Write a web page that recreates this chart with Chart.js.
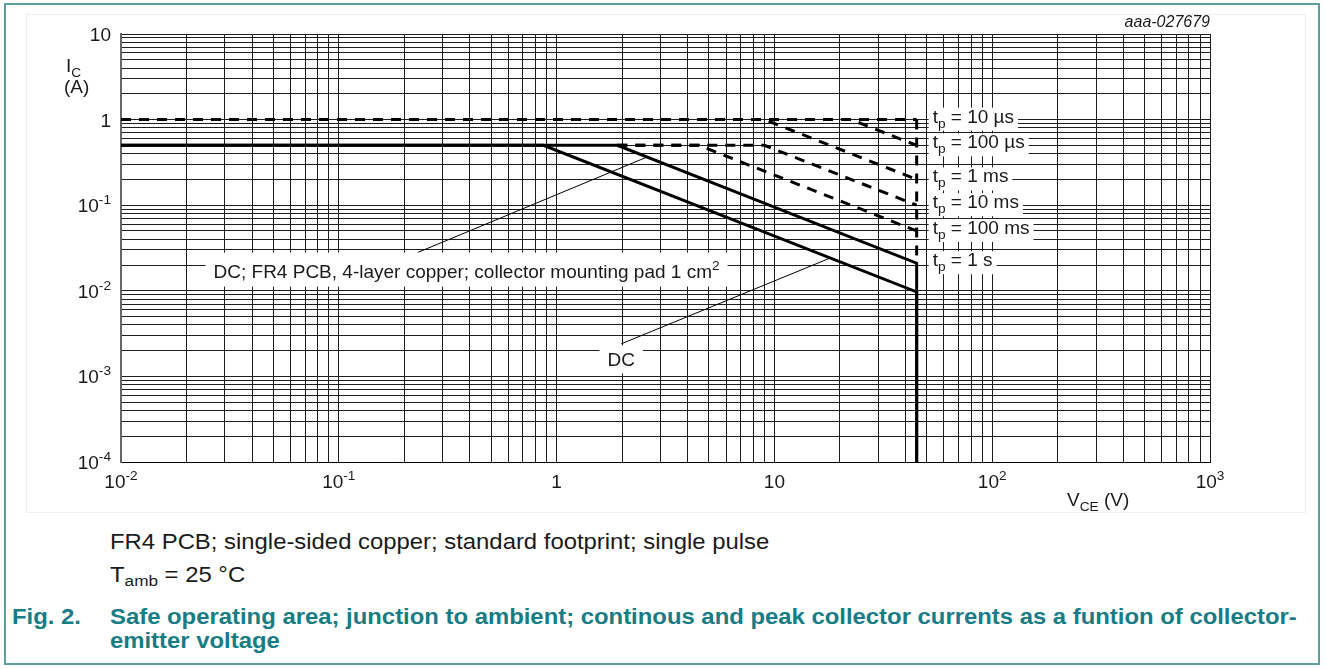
<!DOCTYPE html>
<html>
<head>
<meta charset="utf-8">
<script src="https://cdn.jsdelivr.net/npm/chart.js@4.4.1/dist/chart.umd.min.js"></script>
<style>
  body { margin: 0; background: #fff; font-family: "Liberation Sans", Arial, sans-serif; }
  #frame { position: absolute; left: 4px; top: 3px; width: 1316px; height: 662px; border: 2px solid #5d9ea4; box-sizing: border-box; }
  #inner { position: absolute; left: 26px; top: 14px; width: 1280px; height: 499px; border: 1px solid #efefef; box-sizing: border-box; }
  #wrap { position: absolute; left: 0; top: 0; width: 1326px; height: 520px; }
  .txt { position: absolute; font-size: 21.5px; line-height: 21.5px; color: #1a1a1a; white-space: nowrap;
         transform: scaleX(1.11); transform-origin: 0 0; }
  .fig { color: #177c84; font-weight: bold; }
  sub { font-size: 72%; vertical-align: -4px; line-height: 0; }
</style>
</head>
<body>
<div id="frame"></div>
<div id="inner"></div>
<div id="wrap"><canvas id="soa" width="1326" height="520"></canvas></div>
<div class="txt" style="left:110px; top:532px;">FR4 PCB; single-sided copper; standard footprint; single pulse</div>
<div class="txt" style="left:110px; top:565px;">T<sub>amb</sub> = 25 °C</div>
<div class="txt fig" style="left:12px; top:607px;">Fig. 2.</div>
<div class="txt fig" style="left:110px; top:607px;">Safe operating area; junction to ambient; continous and peak collector currents as a funtion of collector-</div>
<div class="txt fig" style="left:110px; top:631px;">emitter voltage</div>
<script>
// axes: decades and tick labels
const xDecades = [-2, -1, 0, 1, 2, 3];
const yDecades = [-4, -3, -2, -1, 0, 1];
const gridSteps = [1, 2, 3, 4, 5, 6, 7, 8, 9];
const xTickLabels = ['10^-2', '10^-1', '1', '10', '10^2', '10^3'];
const yTickLabels = ['10^-4', '10^-3', '10^-2', '10^-1', '1', '10'];

// curves, V_CE (V) and I_C (A)
const tp10us_V = [0.01, 45];
const tp10us_I = [1, 1];
const tp100us_V = [0.01, 22.5, 45];
const tp100us_I = [1, 1, 0.5];
const tp1ms_V = [0.01, 9, 45];
const tp1ms_I = [1, 1, 0.2];
const tp10ms_V = [1.9, 9, 45];
const tp10ms_I = [0.5, 0.5, 0.1];
const tp100ms_V = [1.9, 4.5, 45];
const tp100ms_I = [0.5, 0.5, 0.05];
const pulseEdge_V = [45, 45];
const pulseEdge_I = [1, 0.021];
const dc4layer_V = [0.01, 1.9, 45, 45];
const dc4layer_I = [0.5, 0.5, 0.021, 0.0001];
const dc_V = [0.01, 0.87, 45, 45];
const dc_I = [0.5, 0.5, 0.0097, 0.0001];

// right-hand labels
const tpLabels = ['t_p = 10 µs', 't_p = 100 µs', 't_p = 1 ms', 't_p = 10 ms', 't_p = 100 ms', 't_p = 1 s'];
const tpLabelI = [1, 0.5, 0.2, 0.1, 0.05, 0.021];

const FS = 19;

function pts(xs, ys) { return xs.map((x, i) => ({ x: x, y: ys[i] })); }

function buildTicks(decades) {
  const out = [];
  decades.forEach((d, k) => {
    const steps = k === decades.length - 1 ? [1] : gridSteps;
    steps.forEach(s => out.push({ value: s * Math.pow(10, d), major: s === 1 }));
  });
  return out;
}

// text with ^sup and _sub runs (up to next space)
function parseRich(str) {
  const parts = [];
  let i = 0, buf = '';
  while (i < str.length) {
    const c = str[i];
    if (c === '^' || c === '_') {
      if (buf) { parts.push({ t: buf, s: null }); buf = ''; }
      let j = i + 1, run = '';
      while (j < str.length && str[j] !== ' ') { run += str[j]; j++; }
      parts.push({ t: run, s: c === '^' ? 'sup' : 'sub' });
      i = j;
    } else { buf += c; i++; }
  }
  if (buf) parts.push({ t: buf, s: null });
  return parts;
}

function richWidth(ctx, parts, size) {
  let w = 0;
  parts.forEach(p => {
    ctx.font = (p.s ? size * 0.72 : size) + 'px "Liberation Sans", Arial, sans-serif';
    w += ctx.measureText(p.t).width;
  });
  return w;
}

function drawRich(ctx, str, x, y, size, align) {
  const parts = parseRich(str);
  const w = richWidth(ctx, parts, size);
  let cx = align === 'right' ? x - w : align === 'center' ? x - w / 2 : x;
  ctx.textBaseline = 'alphabetic';
  ctx.textAlign = 'left';
  parts.forEach(p => {
    const fs = p.s ? size * 0.72 : size;
    ctx.font = fs + 'px "Liberation Sans", Arial, sans-serif';
    const dy = p.s === 'sup' ? -size * 0.42 : p.s === 'sub' ? size * 0.26 : 0;
    ctx.fillText(p.t, cx, y + dy);
    cx += ctx.measureText(p.t).width;
  });
}

const textPlugin = {
  id: 'soaText',
  afterDraw(chart) {
    const ctx = chart.ctx;
    const xs = chart.scales.x, ys = chart.scales.y;
    const area = chart.chartArea;
    ctx.save();
    ctx.fillStyle = '#1a1a1a';

    // tick labels
    xDecades.forEach((d, i) => drawRich(ctx, xTickLabels[i], xs.getPixelForValue(Math.pow(10, d)), area.bottom + 26, FS, 'center'));
    yDecades.forEach((d, i) => drawRich(ctx, yTickLabels[i], area.left - 10, ys.getPixelForValue(Math.pow(10, d)) + 7, FS, 'right'));

    // axis titles
    drawRich(ctx, 'I_C', 66, 72, FS, 'left');
    drawRich(ctx, '(A)', 64, 93, FS, 'left');
    drawRich(ctx, 'V_CE (V)', 1067, 506, FS, 'left');

    ctx.font = 'italic 16px "Liberation Sans", Arial, sans-serif';
    ctx.textAlign = 'right';
    ctx.fillText('aaa-027679', area.right, 27);

    // tp labels with white boxes
    const lx = xs.getPixelForValue(45) + 16;
    tpLabels.forEach((lab, i) => {
      const y = ys.getPixelForValue(tpLabelI[i]);
      const w = richWidth(ctx, parseRich(lab), FS);
      ctx.fillStyle = '#fff';
      ctx.fillRect(lx - 4, y - 12, w + 8, 23);
      ctx.fillStyle = '#1a1a1a';
      drawRich(ctx, lab, lx, y + 3, FS, 'left');
    });

    // leader lines
    ctx.strokeStyle = '#000';
    ctx.lineWidth = 1;
    ctx.beginPath();
    ctx.moveTo(xs.getPixelForValue(0.23), ys.getPixelForValue(0.028));
    ctx.lineTo(xs.getPixelForValue(2.6), ys.getPixelForValue(0.365));
    ctx.moveTo(xs.getPixelForValue(1.98), ys.getPixelForValue(0.0024));
    ctx.lineTo(xs.getPixelForValue(18), ys.getPixelForValue(0.0241));
    ctx.stroke();

    // DC; FR4 label
    const l1 = 'DC; FR4 PCB, 4-layer copper; collector mounting pad 1 cm^2';
    const w1 = richWidth(ctx, parseRich(l1), FS);
    const x1 = xs.getPixelForValue(0.0266), y1 = ys.getPixelForValue(0.0172);
    ctx.fillStyle = '#fff';
    ctx.fillRect(x1 - 8, y1 - 18, w1 + 16, 34);
    ctx.fillStyle = '#1a1a1a';
    drawRich(ctx, l1, x1, y1 + 7, FS, 'left');

    // DC label
    const x2 = xs.getPixelForValue(1.98), y2 = ys.getPixelForValue(0.00158);
    const w2 = richWidth(ctx, parseRich('DC'), FS);
    ctx.fillStyle = '#fff';
    ctx.fillRect(x2 - w2 / 2 - 8, y2 - 14, w2 + 16, 28);
    ctx.fillStyle = '#1a1a1a';
    drawRich(ctx, 'DC', x2, y2 + 7, FS, 'center');
    ctx.restore();
  }
};

const dashed = { borderDash: [10, 8] };
function series(data, extra) {
  return Object.assign({ data: data, borderColor: '#000', borderWidth: 3, pointRadius: 0, tension: 0, fill: false, borderCapStyle: 'butt' }, extra || {});
}

const gridOpts = { color: '#1e1e1e', lineWidth: 1, drawTicks: false };

new Chart(document.getElementById('soa'), {
  type: 'line',
  data: {
    datasets: [
      series(pts(tp10us_V, tp10us_I), dashed),
      series(pts(tp100us_V, tp100us_I), dashed),
      series(pts(tp1ms_V, tp1ms_I), dashed),
      series(pts(tp10ms_V, tp10ms_I), dashed),
      series(pts(tp100ms_V, tp100ms_I), dashed),
      series(pts(pulseEdge_V, pulseEdge_I), dashed),
      series(pts(dc4layer_V, dc4layer_I)),
      series(pts(dc_V, dc_I))
    ]
  },
  options: {
    responsive: false,
    animation: false,
    devicePixelRatio: 1,
    layout: { padding: { left: 121, right: 116, top: 34, bottom: 58 } },
    plugins: { legend: { display: false }, tooltip: { enabled: false } },
    scales: {
      x: {
        type: 'logarithmic', min: 0.01, max: 1000,
        afterBuildTicks: s => { s.ticks = buildTicks(xDecades); },
        ticks: { display: false },
        grid: gridOpts,
        border: { display: true, color: '#000', width: 1 }
      },
      y: {
        type: 'logarithmic', min: 0.0001, max: 10,
        afterBuildTicks: s => { s.ticks = buildTicks(yDecades); },
        ticks: { display: false },
        grid: gridOpts,
        border: { display: true, color: '#666', width: 2 }
      }
    }
  },
  plugins: [textPlugin]
});
</script>
</body>
</html>
